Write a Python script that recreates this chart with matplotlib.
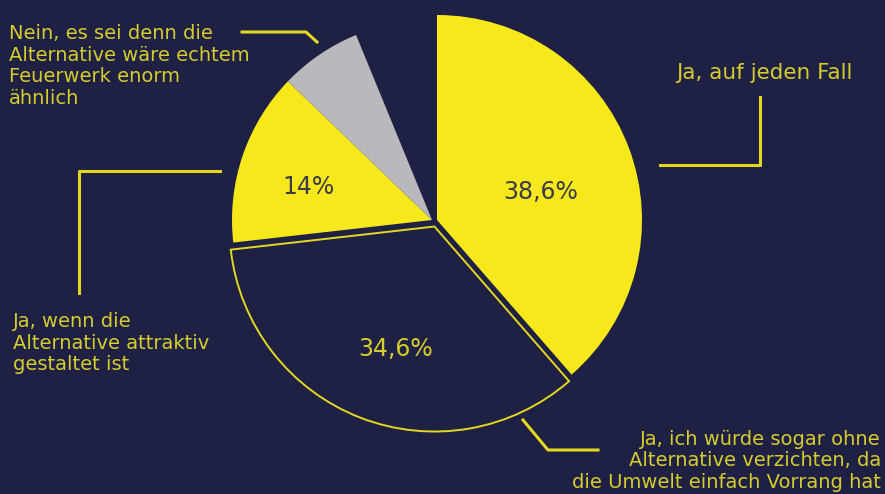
import matplotlib.pyplot as plt

# Werte (Prozent), Rest bis 100 bleibt leer
werte = [38.6, 34.6, 14.0, 6.6]
prozent_texte = ['38,6%', '34,6%', '14%', '']
labels = ['Ja, auf jeden Fall',
          'Ja, ich würde sogar ohne\nAlternative verzichten, da\ndie Umwelt einfach Vorrang hat',
          'Ja, wenn die\nAlternative attraktiv\ngestaltet ist',
          'Nein, es sei denn die\nAlternative wäre echtem\nFeuerwerk enorm\nähnlich']

bg = '#1f2144'
gelb = '#f7e81c'
linie = '#e3d71f'
textgelb = '#d6cc2c'
grau = '#b9b9bd'

W, H = 885, 494
fig = plt.figure(figsize=(W / 100, H / 100), dpi=100, facecolor=bg)
ax = fig.add_axes([0, 0, 1, 1])
ax.set_facecolor(bg)

def py(y):
    # Pixelzeile (von oben) -> Datenkoordinate
    return H - y

cx, cy = 437, py(220)
# explode in Pixeln, da radius in Pixeln
wedges, _ = ax.pie([v / 100 for v in werte], normalize=False, startangle=90,
                   counterclock=False, radius=205, center=(cx, cy),
                   colors=[gelb, bg, gelb, grau],
                   explode=[0, 7, 0, 0],
                   wedgeprops=dict(linewidth=0))
wedges[1].set_edgecolor(linie)
wedges[1].set_linewidth(1.4)
# 14% und grauer Teil gemeinsam leicht nach links versetzt, etwas kleiner
for w in wedges[2:]:
    w.set_center((cx - 5, cy))
    w.set_radius(200)

ax.set_xlim(0, W)
ax.set_ylim(0, H)
ax.set_aspect('equal')
ax.axis('off')

font = ['DejaVu Sans']

# Prozentangaben
ax.text(541, py(192), prozent_texte[0], color='#3a3a48', fontsize=17,
        ha='center', va='center', family=font)
ax.text(396, py(349), prozent_texte[1], color=textgelb, fontsize=17,
        ha='center', va='center', family=font)
ax.text(309, py(187), prozent_texte[2], color='#3a3a48', fontsize=17,
        ha='center', va='center', family=font)

# Beschriftungen
kw = dict(color=textgelb, fontsize=14, family=font, linespacing=1.17)
ax.text(676, py(73), labels[0], ha='left', va='center',
        **{**kw, 'fontsize': 15.5})
ax.text(881, py(494 - 2), labels[1], ha='right', va='bottom', **kw)
ax.text(13, py(312), labels[2], ha='left', va='top', **kw)
ax.text(9, py(24), labels[3], ha='left', va='top', **kw)

# Verbindungslinien
lw = 2.2
ax.plot([760, 760, 660], [py(97), py(165), py(165)], color=linie, lw=lw)
ax.plot([523, 548, 598], [py(420), py(450), py(450)], color=linie, lw=lw)
ax.plot([79, 79, 220], [py(293), py(171), py(171)], color=linie, lw=lw)
ax.plot([242, 306, 317], [py(32), py(32), py(42)], color=linie, lw=lw)

fig.savefig('out.png', dpi=100, facecolor=bg)
